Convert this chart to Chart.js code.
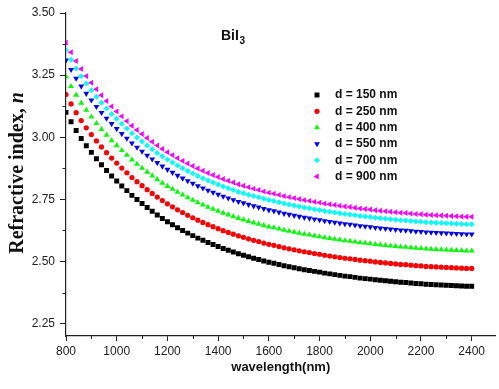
<!DOCTYPE html>
<html>
<head>
<meta charset="utf-8">
<script src="https://cdn.jsdelivr.net/npm/chart.js@4.4.0/dist/chart.umd.min.js"></script>
<style>
  html, body { margin: 0; padding: 0; background: #fff; }
  #chart { display: block; }
</style>
</head>
<body>
<canvas id="chart" width="499" height="389"></canvas>
<script>
// wavelength (nm), one point every 20 nm
const wavelength = [
  800, 820, 840, 860, 880, 900, 920, 940, 960, 980,
  1000, 1020, 1040, 1060, 1080, 1100, 1120, 1140, 1160, 1180,
  1200, 1220, 1240, 1260, 1280, 1300, 1320, 1340, 1360, 1380,
  1400, 1420, 1440, 1460, 1480, 1500, 1520, 1540, 1560, 1580,
  1600, 1620, 1640, 1660, 1680, 1700, 1720, 1740, 1760, 1780,
  1800, 1820, 1840, 1860, 1880, 1900, 1920, 1940, 1960, 1980,
  2000, 2020, 2040, 2060, 2080, 2100, 2120, 2140, 2160, 2180,
  2200, 2220, 2240, 2260, 2280, 2300, 2320, 2340, 2360, 2380,
  2400
];

// refractive index, one list per film thickness
const n150 = [
  3.100, 3.062, 3.027, 2.995, 2.966, 2.939, 2.913, 2.889, 2.866, 2.844,
  2.824, 2.804, 2.785, 2.766, 2.749, 2.733, 2.717, 2.702, 2.687, 2.673,
  2.660, 2.648, 2.636, 2.625, 2.614, 2.604, 2.594, 2.585, 2.576, 2.568,
  2.560, 2.552, 2.545, 2.538, 2.531, 2.525, 2.519, 2.513, 2.508, 2.502,
  2.497, 2.493, 2.488, 2.483, 2.479, 2.475, 2.471, 2.467, 2.464, 2.460,
  2.457, 2.453, 2.450, 2.447, 2.444, 2.441, 2.439, 2.436, 2.433, 2.431,
  2.429, 2.426, 2.424, 2.422, 2.420, 2.418, 2.416, 2.415, 2.413, 2.411,
  2.410, 2.408, 2.407, 2.406, 2.405, 2.404, 2.403, 2.402, 2.401, 2.400,
  2.400
];
const n250 = [
  3.172, 3.134, 3.099, 3.067, 3.038, 3.011, 2.985, 2.961, 2.938, 2.916,
  2.896, 2.876, 2.857, 2.838, 2.821, 2.805, 2.789, 2.774, 2.759, 2.745,
  2.732, 2.720, 2.708, 2.697, 2.686, 2.676, 2.666, 2.657, 2.648, 2.640,
  2.632, 2.624, 2.617, 2.610, 2.603, 2.597, 2.591, 2.585, 2.580, 2.574,
  2.569, 2.565, 2.560, 2.555, 2.551, 2.547, 2.543, 2.539, 2.536, 2.532,
  2.529, 2.525, 2.522, 2.519, 2.516, 2.513, 2.511, 2.508, 2.505, 2.503,
  2.501, 2.498, 2.496, 2.494, 2.492, 2.490, 2.488, 2.487, 2.485, 2.483,
  2.482, 2.480, 2.479, 2.478, 2.477, 2.476, 2.475, 2.474, 2.473, 2.472,
  2.472
];
const n400 = [
  3.243, 3.205, 3.170, 3.138, 3.109, 3.082, 3.056, 3.032, 3.009, 2.987,
  2.967, 2.947, 2.928, 2.909, 2.892, 2.876, 2.860, 2.845, 2.830, 2.816,
  2.803, 2.791, 2.779, 2.768, 2.757, 2.747, 2.737, 2.728, 2.719, 2.711,
  2.703, 2.695, 2.688, 2.681, 2.674, 2.668, 2.662, 2.656, 2.651, 2.645,
  2.640, 2.636, 2.631, 2.626, 2.622, 2.618, 2.614, 2.610, 2.607, 2.603,
  2.600, 2.596, 2.593, 2.590, 2.587, 2.584, 2.582, 2.579, 2.576, 2.574,
  2.572, 2.569, 2.567, 2.565, 2.563, 2.561, 2.559, 2.558, 2.556, 2.554,
  2.553, 2.551, 2.550, 2.549, 2.548, 2.547, 2.546, 2.545, 2.544, 2.543,
  2.543
];
const n550 = [
  3.310, 3.272, 3.237, 3.205, 3.176, 3.149, 3.123, 3.099, 3.076, 3.054,
  3.034, 3.014, 2.995, 2.976, 2.959, 2.943, 2.927, 2.912, 2.897, 2.883,
  2.870, 2.858, 2.846, 2.835, 2.824, 2.814, 2.804, 2.795, 2.786, 2.778,
  2.770, 2.762, 2.755, 2.748, 2.741, 2.735, 2.729, 2.723, 2.718, 2.712,
  2.707, 2.703, 2.698, 2.693, 2.689, 2.685, 2.681, 2.677, 2.674, 2.670,
  2.667, 2.663, 2.660, 2.657, 2.654, 2.651, 2.649, 2.646, 2.643, 2.641,
  2.639, 2.636, 2.634, 2.632, 2.630, 2.628, 2.626, 2.625, 2.623, 2.621,
  2.620, 2.618, 2.617, 2.616, 2.615, 2.614, 2.613, 2.612, 2.611, 2.610,
  2.610
];
const n700 = [
  3.350, 3.312, 3.277, 3.245, 3.216, 3.189, 3.163, 3.139, 3.116, 3.094,
  3.074, 3.054, 3.035, 3.016, 2.999, 2.983, 2.967, 2.952, 2.937, 2.923,
  2.910, 2.898, 2.886, 2.875, 2.864, 2.854, 2.844, 2.835, 2.826, 2.818,
  2.810, 2.802, 2.795, 2.788, 2.781, 2.775, 2.769, 2.763, 2.758, 2.752,
  2.747, 2.743, 2.738, 2.733, 2.729, 2.725, 2.721, 2.717, 2.714, 2.710,
  2.707, 2.703, 2.700, 2.697, 2.694, 2.691, 2.689, 2.686, 2.683, 2.681,
  2.679, 2.676, 2.674, 2.672, 2.670, 2.668, 2.666, 2.665, 2.663, 2.661,
  2.660, 2.658, 2.657, 2.656, 2.655, 2.654, 2.653, 2.652, 2.651, 2.650,
  2.650
];
const n900 = [
  3.380, 3.342, 3.307, 3.275, 3.246, 3.219, 3.193, 3.169, 3.146, 3.124,
  3.104, 3.084, 3.065, 3.046, 3.029, 3.013, 2.997, 2.982, 2.967, 2.953,
  2.940, 2.928, 2.916, 2.905, 2.894, 2.884, 2.874, 2.865, 2.856, 2.848,
  2.840, 2.832, 2.825, 2.818, 2.811, 2.805, 2.799, 2.793, 2.788, 2.782,
  2.777, 2.773, 2.768, 2.763, 2.759, 2.755, 2.751, 2.747, 2.744, 2.740,
  2.737, 2.733, 2.730, 2.727, 2.724, 2.721, 2.719, 2.716, 2.713, 2.711,
  2.709, 2.706, 2.704, 2.702, 2.700, 2.698, 2.696, 2.695, 2.693, 2.691,
  2.690, 2.688, 2.687, 2.686, 2.685, 2.684, 2.683, 2.682, 2.681, 2.680,
  2.680
];

const seriesLabels = ['d = 150 nm', 'd = 250 nm', 'd = 400 nm', 'd = 550 nm', 'd = 700 nm', 'd = 900 nm'];
const xMinorTicks = [900, 1100, 1300, 1500, 1700, 1900, 2100, 2300];
const yMinorTicks = [2.375, 2.625, 2.875, 3.125, 3.375];

function pts(ys) {
  return wavelength.map((w, i) => ({ x: w, y: ys[i] }));
}

function series(label, ys, color, style, radius, rotation) {
  return {
    label: label,
    data: pts(ys),
    showLine: false,
    backgroundColor: color,
    borderColor: color,
    pointStyle: style,
    pointRadius: radius,
    pointRotation: rotation || 0,
    pointBorderWidth: 0,
    pointHoverRadius: radius
  };
}

// legend, sample name, y title and the small minor ticks
const extras = {
  id: 'extras',
  afterDraw(chart) {
    const ctx = chart.ctx;
    const area = chart.chartArea;
    const xs = chart.scales.x, ys = chart.scales.y;
    ctx.save();

    // minor ticks
    ctx.strokeStyle = '#222';
    ctx.lineWidth = 1;
    ctx.beginPath();
    xMinorTicks.forEach(v => {
      const px = Math.round(xs.getPixelForValue(v)) + 0.5;
      ctx.moveTo(px, area.bottom);
      ctx.lineTo(px, area.bottom + 3);
    });
    yMinorTicks.forEach(v => {
      const py = Math.round(ys.getPixelForValue(v)) + 0.5;
      ctx.moveTo(area.left - 3.5, py);
      ctx.lineTo(area.left, py);
    });
    ctx.stroke();

    // legend
    ctx.font = 'bold 12px "Liberation Sans", Arial, sans-serif';
    ctx.textBaseline = 'middle';
    ctx.textAlign = 'left';
    chart.data.datasets.forEach((ds, i) => {
      const y = 95 + i * 16.3;
      ctx.fillStyle = ds.backgroundColor;
      if (Chart.helpers && Chart.helpers.drawPoint) {
        Chart.helpers.drawPoint(ctx, {
          pointStyle: ds.pointStyle,
          rotation: ds.pointRotation,
          radius: ds.pointRadius,
          borderWidth: 0
        }, 317, y);
      } else {
        ctx.beginPath();
        ctx.arc(317, y, 2.5, 0, Math.PI * 2);
        ctx.fill();
      }
      ctx.fillStyle = '#111';
      ctx.fillText(ds.label, 335, y);
    });

    // sample name BiI3
    ctx.textBaseline = 'alphabetic';
    ctx.fillStyle = '#111';
    ctx.font = 'bold 14px "Liberation Sans", Arial, sans-serif';
    ctx.fillText('BiI', 221, 40);
    const w = ctx.measureText('BiI').width;
    ctx.font = 'bold 10px "Liberation Sans", Arial, sans-serif';
    ctx.fillText('3', 221 + w + 0.5, 44);

    // y axis title with italic n
    ctx.translate(23, 173);
    ctx.rotate(-Math.PI / 2);
    const t1 = 'Refractive index, ';
    ctx.font = 'bold 20px "Liberation Serif", "Times New Roman", serif';
    const w1 = ctx.measureText(t1).width;
    ctx.font = 'bold italic 20px "Liberation Serif", "Times New Roman", serif';
    const w2 = ctx.measureText('n').width;
    const x0 = -(w1 + w2) / 2;
    ctx.font = 'bold 20px "Liberation Serif", "Times New Roman", serif';
    ctx.fillText(t1, x0, 0);
    ctx.font = 'bold italic 20px "Liberation Serif", "Times New Roman", serif';
    ctx.fillText('n', x0 + w1, 0);

    ctx.restore();
  }
};

const ctx = document.getElementById('chart').getContext('2d');
new Chart(ctx, {
  type: 'scatter',
  data: {
    datasets: [
      series(seriesLabels[0], n150, '#000000', 'rect', 3.5),
      series(seriesLabels[1], n250, '#ff0000', 'circle', 2.6),
      series(seriesLabels[2], n400, '#00ff00', 'triangle', 3.4),
      series(seriesLabels[3], n550, '#0000ff', 'triangle', 3.4, 180),
      series(seriesLabels[4], n700, '#00ffff', 'rectRot', 3),
      series(seriesLabels[5], n900, '#ff00ff', 'triangle', 3.4, -90)
    ]
  },
  options: {
    responsive: false,
    animation: false,
    devicePixelRatio: 1,
    layout: { padding: { top: 13, right: 0, bottom: 0, left: 0 } },
    plugins: {
      legend: { display: false },
      tooltip: { enabled: false }
    },
    scales: {
      x: {
        type: 'linear',
        min: 800,
        max: 2494,
        afterFit: s => { s.height = 53; },
        ticks: {
          stepSize: 200,
          includeBounds: false,
          color: '#222',
          padding: 3,
          maxRotation: 0,
          callback: v => String(v),
          font: { family: '"Liberation Sans", Arial, sans-serif', size: 12 }
        },
        grid: {
          drawOnChartArea: false,
          drawTicks: true,
          tickLength: 5,
          tickColor: '#222'
        },
        border: { color: '#222', width: 1.2 },
        title: {
          display: true,
          text: 'wavelength(nm)',
          color: '#111',
          padding: { top: 0, bottom: 14 },
          font: { family: '"Liberation Sans", Arial, sans-serif', size: 13, weight: 'bold' }
        }
      },
      y: {
        min: 2.2,
        max: 3.5,
        afterFit: s => { s.width = 66; },
        ticks: {
          stepSize: 0.25,
          includeBounds: false,
          color: '#222',
          padding: 5,
          callback: v => v.toFixed(2),
          font: { family: '"Liberation Sans", Arial, sans-serif', size: 12 }
        },
        grid: {
          drawOnChartArea: false,
          drawTicks: true,
          tickLength: 6,
          tickColor: '#222'
        },
        border: { color: '#222', width: 1.2 }
      }
    }
  },
  plugins: [extras]
});
</script>
</body>
</html>
